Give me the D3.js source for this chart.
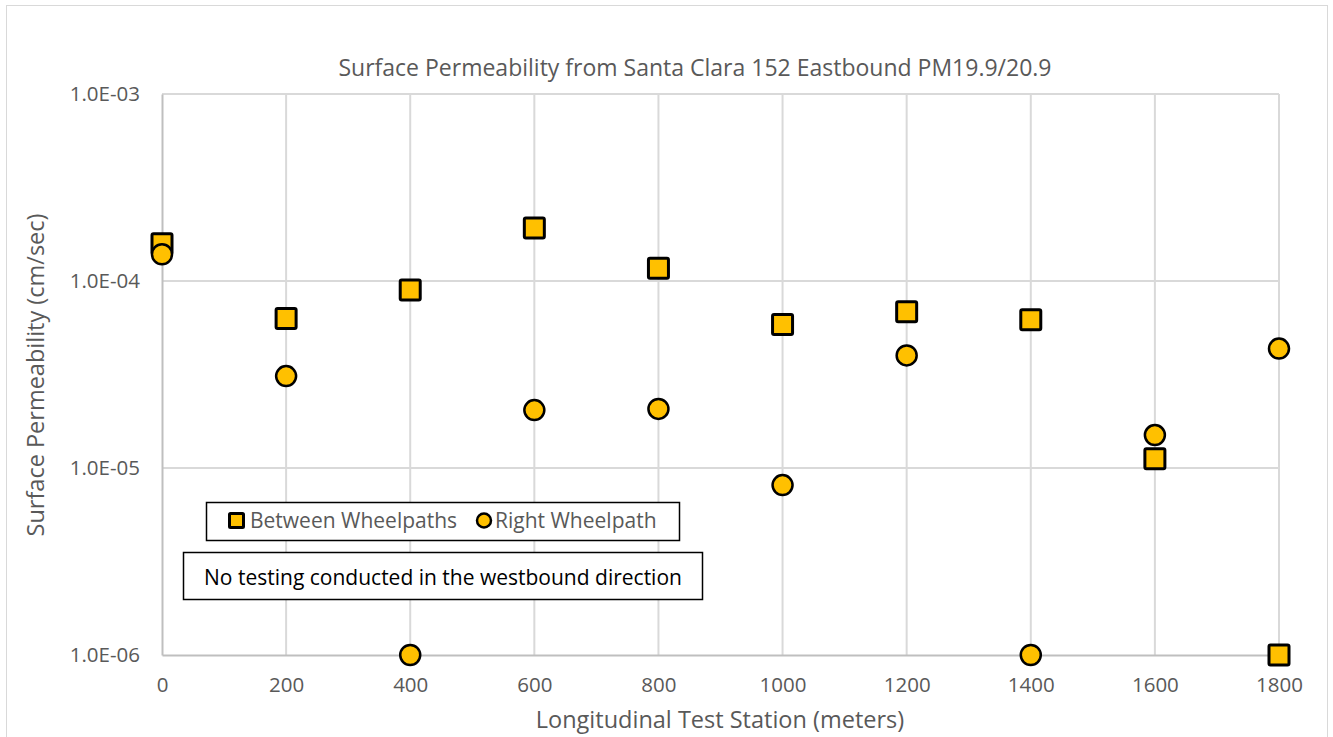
<!DOCTYPE html>
<html>
<head>
<meta charset="utf-8">
<script src="https://cdn.jsdelivr.net/npm/d3@7"></script>
<style>
  body { margin: 0; background: #fff; }
  text { font-family: "Open Sans", "Liberation Sans", sans-serif; }
</style>
</head>
<body>
<svg id="chart" width="1333" height="737"></svg>
<script>
var stations = [0, 200, 400, 600, 800, 1000, 1200, 1400, 1600, 1800];
var betweenWheelpaths = [1.58e-4, 6.3e-5, 8.95e-5, 1.92e-4, 1.17e-4, 5.85e-5, 6.85e-5, 6.2e-5, 1.12e-5, 1.0e-6];
var rightWheelpath = [1.39e-4, 3.1e-5, 1.0e-6, 2.04e-5, 2.07e-5, 8.1e-6, 4.0e-5, 1.0e-6, 1.5e-5, 4.35e-5];
var xTicks = [0, 200, 400, 600, 800, 1000, 1200, 1400, 1600, 1800];
var yTicks = [1e-6, 1e-5, 1e-4, 1e-3];

var margin = {top: 94, left: 162, right: 54, bottom: 82};
var W = 1333, H = 737;
var width = W - margin.left - margin.right,
	height = H - margin.top - margin.bottom;

var gold = "#FFC000";
var grey = "#595959";

var svg = d3.select("#chart");

// outer chart frame
svg.append("rect")
	.attr("x", 6.5).attr("y", 5.5)
	.attr("width", 1321).attr("height", 740)
	.attr("fill", "#fff")
	.attr("stroke", "#d9d9d9").attr("stroke-width", 1);

var x = d3.scaleLinear().domain([0, 1800]).range([0, width]);
var y = d3.scaleLog().domain([1e-6, 1e-3]).range([height, 0]);

var g = svg.append("g").attr("transform", "translate(" + margin.left + "," + margin.top + ")");

// grid
g.selectAll(".vgrid").data(xTicks.slice(1)).enter().append("line")
	.attr("x1", function(d) { return x(d); }).attr("x2", function(d) { return x(d); })
	.attr("y1", 0).attr("y2", height)
	.attr("stroke", "#d9d9d9").attr("stroke-width", 2);
g.selectAll(".hgrid").data(yTicks.slice(1)).enter().append("line")
	.attr("x1", 0).attr("x2", width)
	.attr("y1", function(d) { return y(d); }).attr("y2", function(d) { return y(d); })
	.attr("stroke", "#d9d9d9").attr("stroke-width", 2);

// axes
var xAxis = g.append("g").attr("transform", "translate(0," + height + ")")
	.call(d3.axisBottom(x).tickValues(xTicks).tickSize(0).tickPadding(22).tickFormat(d3.format("d")));
var yAxis = g.append("g")
	.call(d3.axisLeft(y).tickValues(yTicks).tickSize(0).tickPadding(22)
		.tickFormat(function(d) { return d.toExponential(1).toUpperCase().replace(/E-(\d)$/, "E-0$1"); }));
[xAxis, yAxis].forEach(function(a) {
	a.select(".domain").attr("stroke", "#bfbfbf").attr("stroke-width", 2);
	a.selectAll("text").attr("fill", grey).style("font-size", "20.5px");
});

// points
var dataB = stations.map(function(s, i) { return {x: s, v: betweenWheelpaths[i]}; });
var dataR = stations.map(function(s, i) { return {x: s, v: rightWheelpath[i]}; });

var sq = 20;
g.selectAll(".sq").data(dataB).enter().append("rect")
	.attr("x", function(d) { return x(d.x) - sq / 2; })
	.attr("y", function(d) { return y(d.v) - sq / 2; })
	.attr("width", sq).attr("height", sq).attr("rx", 1.5)
	.attr("fill", gold).attr("stroke", "#000").attr("stroke-width", 3);

g.selectAll(".dot").data(dataR).enter().append("circle")
	.attr("cx", function(d) { return x(d.x); })
	.attr("cy", function(d) { return y(d.v); })
	.attr("r", 10)
	.attr("fill", gold).attr("stroke", "#000").attr("stroke-width", 2.5);

// title
svg.append("text")
	.attr("x", 695).attr("y", 76)
	.attr("text-anchor", "middle")
	.attr("fill", grey).style("font-size", "23px")
	.text("Surface Permeability from Santa Clara 152 Eastbound PM19.9/20.9");

// axis titles
svg.append("text")
	.attr("x", 720).attr("y", 728)
	.attr("text-anchor", "middle")
	.attr("fill", grey).style("font-size", "23.5px")
	.text("Longitudinal Test Station (meters)");
svg.append("text")
	.attr("transform", "translate(44,375) rotate(-90)")
	.attr("text-anchor", "middle")
	.attr("fill", grey).style("font-size", "23.5px")
	.text("Surface Permeability (cm/sec)");

// legend
var leg = svg.append("g");
leg.append("rect").attr("x", 206.5).attr("y", 502.5).attr("width", 473).attr("height", 38)
	.attr("fill", "#fff").attr("stroke", "#000").attr("stroke-width", 1.5);
leg.append("rect").attr("x", 229.5).attr("y", 513.5).attr("width", 14).attr("height", 14).attr("rx", 1)
	.attr("fill", gold).attr("stroke", "#000").attr("stroke-width", 3);
leg.append("text").attr("x", 250).attr("y", 528).attr("fill", grey).style("font-size", "21px")
	.text("Between Wheelpaths");
leg.append("circle").attr("cx", 484).attr("cy", 520.5).attr("r", 7)
	.attr("fill", gold).attr("stroke", "#000").attr("stroke-width", 2.5);
leg.append("text").attr("x", 495).attr("y", 528).attr("fill", grey).style("font-size", "21px")
	.text("Right Wheelpath");

// note box
svg.append("rect").attr("x", 183.5).attr("y", 552.5).attr("width", 519).attr("height", 47)
	.attr("fill", "#fff").attr("stroke", "#000").attr("stroke-width", 1.5);
svg.append("text").attr("x", 443).attr("y", 585).attr("text-anchor", "middle")
	.attr("fill", "#000").style("font-size", "21px")
	.text("No testing conducted in the westbound direction");
</script>
</body>
</html>
